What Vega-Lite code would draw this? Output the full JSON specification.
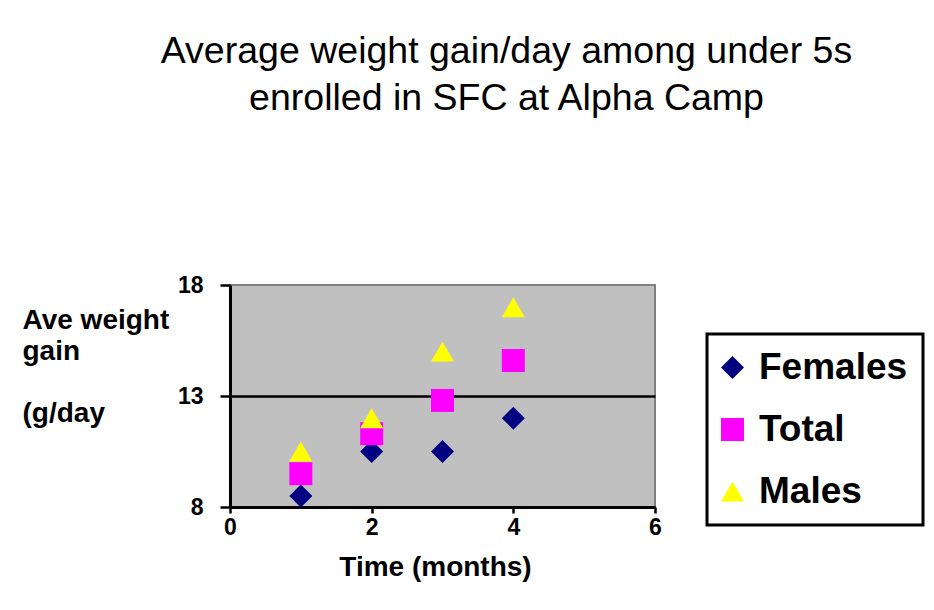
{
  "$schema": "https://vega.github.io/schema/vega-lite/v6.json",
  "width": 425,
  "height": 222,
  "autosize": {"type": "none"},
  "padding": {"left": 230, "top": 285, "right": 279, "bottom": 103},
  "background": "white",
  "config": {
    "font": "Liberation Sans",
    "view": {"fill": "#C0C0C0", "stroke": "#808080", "strokeWidth": 2},
    "legend": {"strokeWidth": 3}
  },
  "title": {
    "text": ["Average weight gain/day among under 5s", "enrolled in SFC at Alpha Camp"],
    "font": "Liberation Sans",
    "fontSize": 37.5,
    "fontWeight": "normal",
    "color": "black",
    "lineHeight": 47,
    "anchor": "middle",
    "frame": "group",
    "baseline": "alphabetic",
    "offset": 0,
    "dx": 64,
    "dy": -127
  },
  "data": {
    "values": [
      {"month": 1, "group": "Females", "gain": 8.5},
      {"month": 2, "group": "Females", "gain": 10.5},
      {"month": 3, "group": "Females", "gain": 10.5},
      {"month": 4, "group": "Females", "gain": 12.0},
      {"month": 1, "group": "Total", "gain": 9.5},
      {"month": 2, "group": "Total", "gain": 11.3},
      {"month": 3, "group": "Total", "gain": 12.8},
      {"month": 4, "group": "Total", "gain": 14.6},
      {"month": 1, "group": "Males", "gain": 10.5},
      {"month": 2, "group": "Males", "gain": 12.0},
      {"month": 3, "group": "Males", "gain": 15.0},
      {"month": 4, "group": "Males", "gain": 17.0}
    ]
  },
  "mark": {"type": "point", "filled": true, "opacity": 1, "size": 529, "strokeWidth": 0},
  "encoding": {
    "x": {
      "field": "month",
      "type": "quantitative",
      "scale": {"domain": [0, 6], "nice": false, "zero": false},
      "axis": {
        "values": [0, 2, 4, 6],
        "title": "Time (months)",
        "grid": false,
        "domainColor": "black",
        "domainWidth": 3,
        "tickColor": "black",
        "tickWidth": 2.5,
        "tickSize": 6,
        "labelFontSize": 23,
        "labelFontWeight": "bold",
        "labelColor": "black",
        "labelPadding": 3,
        "labelFlush": false,
        "titleFontSize": 28,
        "titleFontWeight": "bold",
        "titleColor": "black",
        "titlePadding": 14,
        "titleX": 205
      }
    },
    "y": {
      "field": "gain",
      "type": "quantitative",
      "scale": {"domain": [8, 18], "nice": false, "zero": false},
      "axis": {
        "values": [8, 13, 18],
        "grid": true,
        "gridColor": {"condition": {"test": "datum.value === 13", "value": "black"}, "value": "transparent"},
        "gridWidth": 2.5,
        "domainColor": "black",
        "domainWidth": 3,
        "tickColor": "black",
        "tickWidth": 2.5,
        "tickSize": 10,
        "labelFontSize": 23,
        "labelFontWeight": "bold",
        "labelColor": "black",
        "labelPadding": 17,
        "labelBaseline": "middle",
        "title": ["Ave weight", "gain", "\u200b", "(g/day"],
        "titleFontSize": 28,
        "titleFontWeight": "bold",
        "titleColor": "black",
        "titleAngle": 0,
        "titleAlign": "left",
        "titleBaseline": "alphabetic",
        "titleX": -208,
        "titleY": 43,
        "titleLineHeight": 31
      }
    },
    "color": {
      "field": "group",
      "type": "nominal",
      "scale": {"domain": ["Females", "Total", "Males"], "range": ["#000080", "#FF00FF", "#FFFF00"]},
      "legend": {
        "title": null,
        "orient": "none",
        "legendX": 477,
        "legendY": 49,
        "strokeColor": "black",
        "padding": 15,
        "symbolSize": 529,
        "symbolStrokeWidth": 0,
        "symbolOpacity": 1,
        "symbolOffset": -8,
        "labelFontSize": 37,
        "labelFontWeight": "bold",
        "labelColor": "black",
        "labelOffset": 8,
        "rowPadding": 24,
        "labelLimit": 300
      }
    },
    "shape": {
      "field": "group",
      "type": "nominal",
      "scale": {"domain": ["Females", "Total", "Males"], "range": ["diamond", "square", "triangle-up"]}
    }
  }
}
